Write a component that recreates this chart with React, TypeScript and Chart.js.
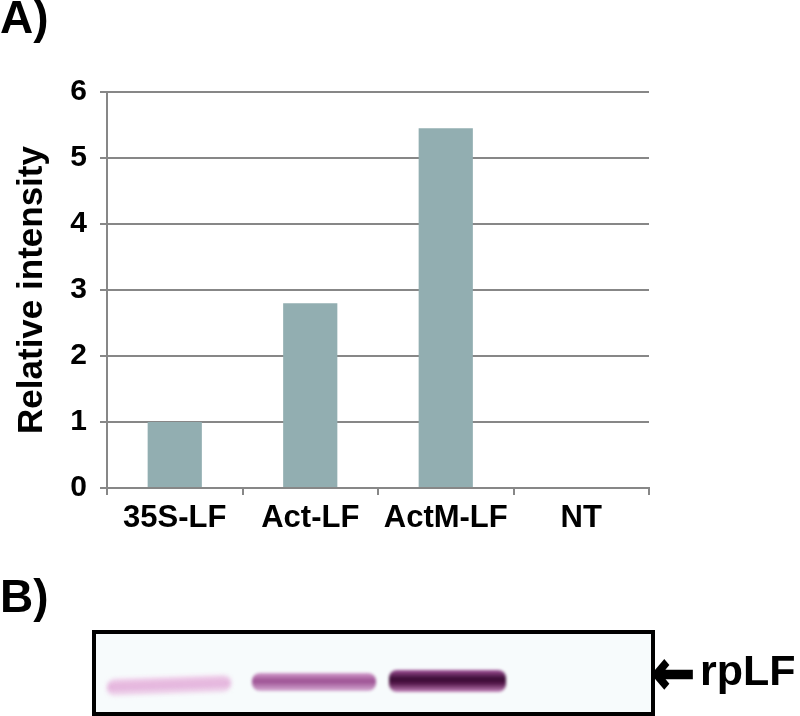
import React, { useEffect, useRef } from 'react';
import { Chart, registerables } from 'chart.js';

Chart.register(...registerables);

// ---- data ----
const categories = ['35S-LF', 'Act-LF', 'ActM-LF', 'NT'];
const intensity = [1.0, 2.8, 5.45, 0];
const yMin = 0;
const yMax = 6;
const yStep = 1;
const yTitle = 'Relative intensity';
const panelA = 'A)';
const panelB = 'B)';
const blotArrow = '←';
const blotLabel = 'rpLF';

const FONT = '"Liberation Sans", Arial, Helvetica, sans-serif';
const GRID = '#878787';
const BAR = '#92AEB1';

export default function App() {
  const ref = useRef<HTMLCanvasElement>(null);

  useEffect(() => {
    if (!ref.current) return;
    const chart = new Chart(ref.current, {
      type: 'bar',
      data: {
        labels: categories,
        datasets: [
          {
            data: intensity,
            backgroundColor: BAR,
            borderWidth: 0,
            barPercentage: 0.4,
            categoryPercentage: 1,
          },
        ],
      },
      options: {
        responsive: false,
        animation: false,
        layout: { padding: { top: 92, right: 151, bottom: 188, left: 0 } },
        plugins: { legend: { display: false }, tooltip: { enabled: false } },
        scales: {
          x: {
            grid: {
              offset: true,
              drawOnChartArea: false,
              drawTicks: true,
              tickLength: 7,
              color: GRID,
              lineWidth: 2,
            },
            border: { display: true, color: GRID, width: 2 },
            ticks: {
              color: '#000',
              font: { family: FONT, size: 31, weight: 'bold' },
              padding: 5,
              autoSkip: false,
              maxRotation: 0,
            },
            afterFit: (s: any) => {
              s.height = 40;
            },
          },
          y: {
            min: yMin,
            max: yMax,
            ticks: {
              stepSize: yStep,
              color: '#000',
              font: { family: FONT, size: 30, weight: 'bold' },
              padding: 13,
            },
            grid: { color: GRID, lineWidth: 2, tickLength: 7 },
            border: { display: true, color: GRID, width: 2 },
            title: {
              display: true,
              text: yTitle,
              color: '#000',
              font: { family: FONT, size: 35, weight: 'bold' },
              padding: { top: 11, bottom: 0 },
            },
            afterFit: (s: any) => {
              s.width = 107;
            },
          },
        },
      },
    });
    return () => chart.destroy();
  }, []);

  const textBase: React.CSSProperties = {
    position: 'absolute',
    fontFamily: FONT,
    fontWeight: 'bold',
    lineHeight: 1,
    color: '#000',
    whiteSpace: 'nowrap',
  };

  return (
    <div style={{ position: 'absolute', left: 0, top: 0, width: 800, height: 716, background: '#fff', overflow: 'hidden' }}>
      <canvas ref={ref} width={800} height={716} style={{ position: 'absolute', left: 0, top: 0 }} />
      <div style={{ ...textBase, left: 0, top: -6, fontSize: 46 }}>{panelA}</div>
      <div style={{ ...textBase, left: 0, top: 573, fontSize: 46 }}>{panelB}</div>
      {/* blot */}
      <div
        style={{
          position: 'absolute',
          left: 92,
          top: 630,
          width: 563,
          height: 86,
          boxSizing: 'border-box',
          border: '4px solid #000',
          background: '#f7fbfc',
          overflow: 'hidden',
        }}
      >
        <div
          style={{
            position: 'absolute',
            left: 11,
            top: 43,
            width: 124,
            height: 17,
            borderRadius: 8,
            background:
              'linear-gradient(to bottom, rgba(234,186,224,0.65), rgba(224,164,214,0.85), rgba(238,200,230,0.55))',
            filter: 'blur(2px)',
            transform: 'skewY(-2deg)',
          }}
        />
        <div
          style={{
            position: 'absolute',
            left: 156,
            top: 39,
            width: 124,
            height: 18,
            borderRadius: 8,
            background:
              'linear-gradient(to bottom, rgba(200,130,190,0.8), rgba(150,70,140,0.95) 45%, rgba(205,150,200,0.8))',
            filter: 'blur(1.8px)',
          }}
        />
        <div
          style={{
            position: 'absolute',
            left: 293,
            top: 36,
            width: 117,
            height: 22,
            borderRadius: 8,
            background:
              'linear-gradient(to bottom, rgba(150,60,140,0.9), rgba(55,10,50,1) 40%, rgba(80,20,70,1) 60%, rgba(190,120,180,0.9))',
            filter: 'blur(1.6px)',
          }}
        />
      </div>
      <div
        style={{
          ...textBase,
          left: 652,
          top: 642,
          fontSize: 60,
          fontFamily: '"DejaVu Sans", sans-serif',
          transform: 'scaleX(0.85)',
          transformOrigin: 'left center',
          WebkitTextStroke: '2.5px #000',
        }}
      >
        {blotArrow}
      </div>
      <div style={{ ...textBase, left: 700, top: 649, fontSize: 43 }}>{blotLabel}</div>
    </div>
  );
}
